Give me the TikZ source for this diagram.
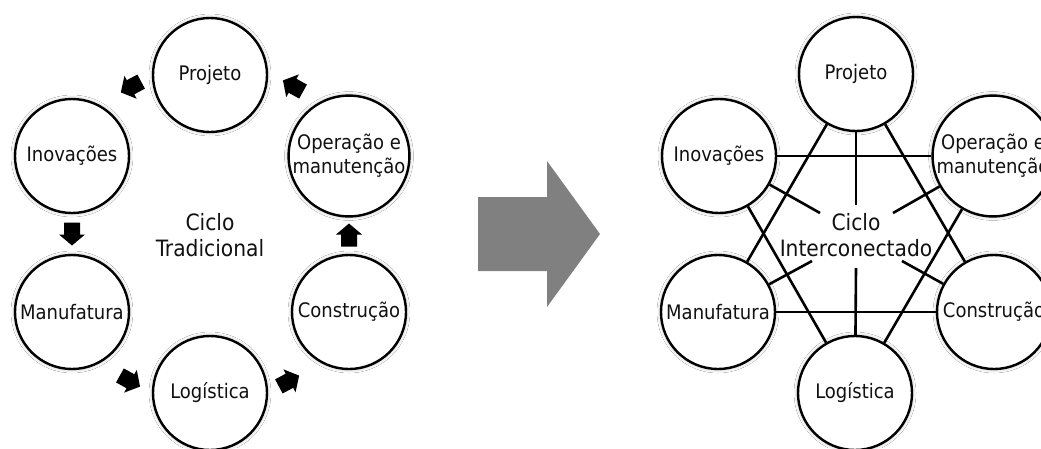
\documentclass[tikz,border=0pt]{standalone}
\usepackage{fontspec}
\setmainfont{DejaVu Sans Condensed}
\usetikzlibrary{shadows.blur}
\definecolor{txt}{HTML}{111111}
\definecolor{bigarrowgray}{HTML}{808080}

\begin{document}
\begin{tikzpicture}[x=1pt,y=-1pt,
  stage/.style={circle, draw=black, line width=2.4pt, fill=white,
    minimum size=114pt, inner sep=0pt, align=center, text=txt,
    font=\fontsize{20}{24}\selectfont,
    blur shadow={shadow xshift=0pt, shadow yshift=0pt,
      shadow blur radius=4pt, shadow opacity=35, shadow scale=1.0}},
  hub/.style={align=center, text=txt, font=\fontsize{22.5}{26}\selectfont},
  link/.style={line width=2.6pt, black},
  flowarrow/.pic={\fill[black] (-11.5,-8) -- (0.5,-8) -- (0.5,-13)
      -- (11.5,0) -- (0.5,13) -- (0.5,8) -- (-11.5,8) -- cycle;},
]
\clip (0,0) rectangle (1041,448);
\fill[white] (0,0) rectangle (1041,448);

% ---- traditional cycle ----
\node[stage] (proj)  at (210,75)  {Projeto};
\node[stage] (inov)  at (72,156)  {Inovações};
\node[stage] (oper)  at (349,156) {Operação e\\manutenção};
\node[stage] (manu)  at (72,312)  {Manufatura};
\node[stage] (cons)  at (349,312) {Construção};
\node[stage] (logi)  at (210,393) {Logística};
\node[hub]   (ctrad) at (210,235) {Ciclo\\Tradicional};

\pic[rotate=208] at (131,87)  {flowarrow};
\pic[rotate=-90] at (72,234)  {flowarrow};
\pic[rotate=-29] at (130,381) {flowarrow};
\pic[rotate=28]  at (289,381) {flowarrow};
\pic[rotate=90]  at (349,235) {flowarrow};
\pic[rotate=151] at (293,86)  {flowarrow};

% ---- transition arrow ----
\fill[bigarrowgray] (478,197) -- (547,197) -- (547,161) -- (600,234)
  -- (547,307) -- (547,271) -- (478,271) -- cycle;

% ---- interconnected cycle ----
\node[stage] (proj2) at (856,74)  {Projeto};
\node[stage] (inov2) at (719,156) {Inovações};
\node[stage] (oper2) at (993,156) {Operação e\\manutenção};
\node[stage] (manu2) at (718,312) {Manufatura};
\node[stage] (cons2) at (994,312) {Construção};
\node[stage] (logi2) at (855,393) {Logística};
\node[hub]   (cint)  at (856,235) {Ciclo\\Interconectado};

\coordinate (sp-proj) at (856,205);
\coordinate (sp-logi) at (856,268);
\coordinate (sp-inov) at (820,213);
\coordinate (sp-oper) at (893,213);
\coordinate (sp-manu) at (812,261);
\coordinate (sp-cons) at (902,261);

\draw[link] (inov2) -- (oper2);
\draw[link] (manu2) -- (cons2);
\draw[link] (proj2) -- (manu2);
\draw[link] (proj2) -- (cons2);
\draw[link] (inov2) -- (logi2);
\draw[link] (oper2) -- (logi2);
\draw[link] (proj2) -- (sp-proj);
\draw[link] (logi2) -- (sp-logi);
\draw[link] (inov2) -- (sp-inov);
\draw[link] (oper2) -- (sp-oper);
\draw[link] (manu2) -- (sp-manu);
\draw[link] (cons2) -- (sp-cons);
\end{tikzpicture}
\end{document}
